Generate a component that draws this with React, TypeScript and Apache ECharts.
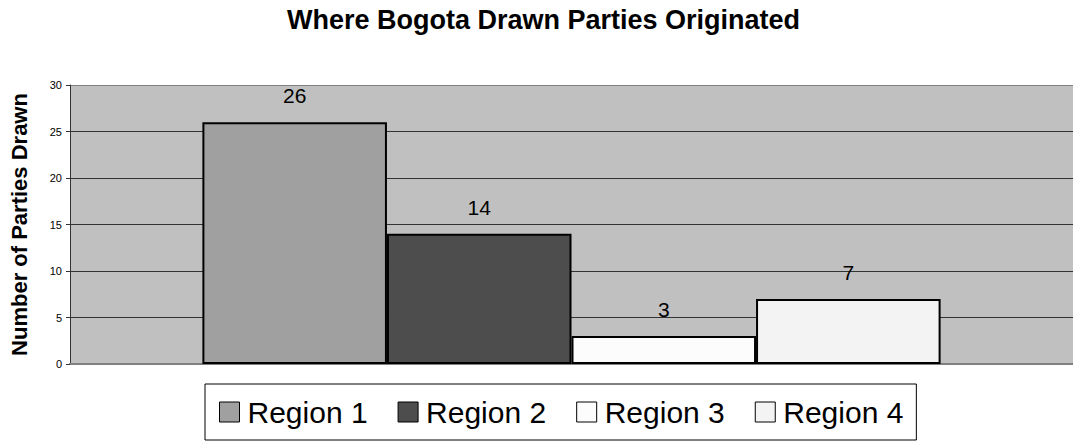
import React, { useEffect, useRef } from "react";
import * as echarts from "echarts";

const categories = [""];
const seriesNames = ["Region 1", "Region 2", "Region 3", "Region 4"];
const seriesValues = [[26], [14], [3], [7]];
const seriesColors = ["#A0A0A0", "#4D4D4D", "#FCFCFC", "#F3F3F3"];
const titleText = "Where Bogota Drawn Parties Originated";
const yAxisName = "Number of Parties Drawn";

const FONT = "'Liberation Sans', Arial, sans-serif";

export default function App() {
  const ref = useRef<HTMLDivElement>(null);
  useEffect(() => {
    if (!ref.current) return;
    const chart = echarts.init(ref.current, undefined, { renderer: "svg" });
    chart.setOption({
      animation: false,
      backgroundColor: "#FFFFFF",
      textStyle: { fontFamily: FONT },
      title: {
        text: titleText,
        left: 287,
        top: 6,
        padding: 0,
        textStyle: { fontFamily: FONT, fontSize: 27, fontWeight: "bold", color: "#000" },
      },
      legend: {
        left: 205,
        top: 384,
        padding: [13, 13, 13, 14],
        itemGap: 30,
        itemWidth: 20,
        itemHeight: 20,
        borderColor: "#000",
        borderWidth: 1,
        icon: "rect",
        itemStyle: { borderColor: "#000", borderWidth: 1 },
        textStyle: { fontFamily: FONT, fontSize: 30, color: "#000", padding: [0, 0, 0, 3] },
        data: seriesNames,
      },
      grid: {
        left: 66,
        right: -4,
        top: 85,
        bottom: 77,
        show: true,
        backgroundColor: "#C0C0C0",
        borderWidth: 0,
      },
      xAxis: {
        type: "category",
        data: categories,
        axisLabel: { show: false },
        axisTick: { show: false },
        axisLine: { show: true, lineStyle: { color: "#808080", width: 2 } },
      },
      yAxis: {
        type: "value",
        min: 0,
        max: 30,
        interval: 5,
        name: yAxisName,
        nameLocation: "middle",
        nameRotate: 90,
        nameGap: 40,
        nameTextStyle: { fontFamily: FONT, fontSize: 22, fontWeight: "bold", color: "#000" },
        axisLine: { show: true, lineStyle: { color: "#333", width: 1 } },
        axisTick: { show: true, length: 4, lineStyle: { color: "#333" } },
        axisLabel: { fontFamily: FONT, fontSize: 11, color: "#000", margin: 8 },
        splitLine: {
          show: true,
          lineStyle: {
            color: ["#808080", "#333", "#333", "#333", "#333", "#333", "#808080"],
            width: 1,
          },
        },
      },
      series: seriesNames.map((name, i) => ({
        name,
        type: "bar",
        data: seriesValues[i],
        barGap: "0%",
        barCategoryGap: "26.4%",
        itemStyle: { color: seriesColors[i], borderColor: "#000", borderWidth: 2 },
        label: {
          show: true,
          position: "top",
          distance: 16,
          fontFamily: FONT,
          fontSize: 21,
          color: "#000",
        },
      })),
    });
    return () => chart.dispose();
  }, []);
  return <div ref={ref} style={{ width: 1073, height: 441, position: "absolute", left: 0, top: 0 }} />;
}
